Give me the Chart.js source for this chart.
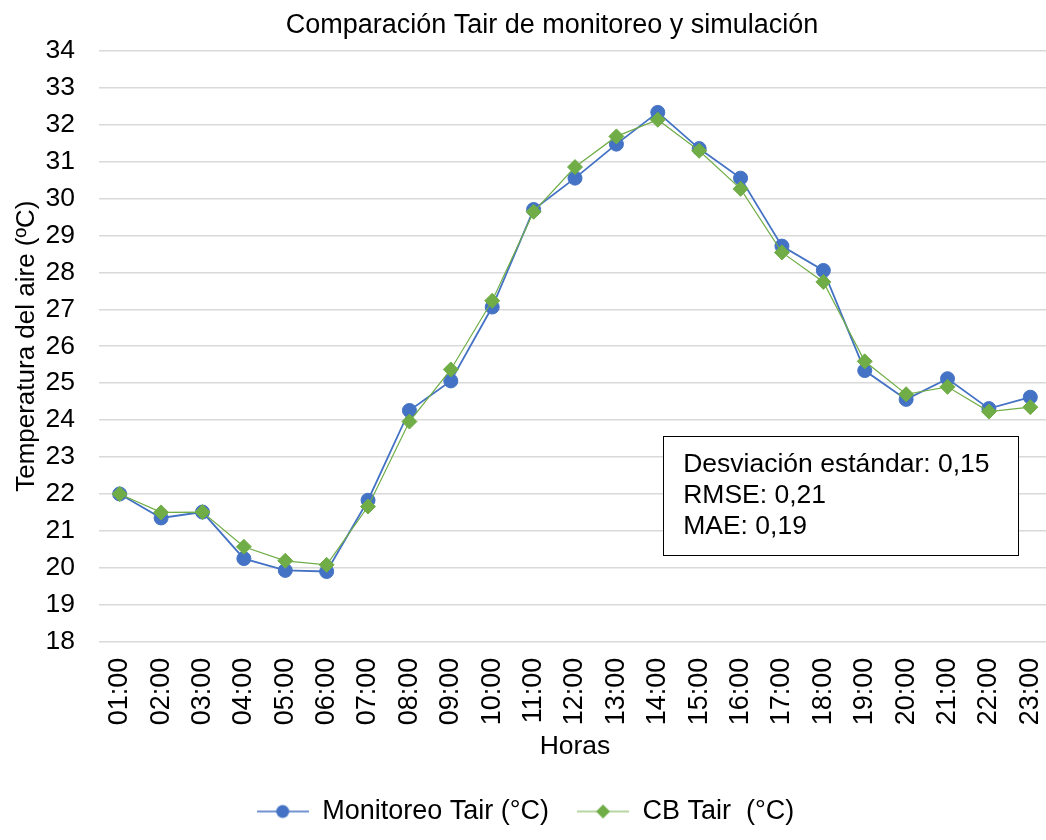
<!DOCTYPE html>
<html>
<head>
<meta charset="utf-8">
<script src="https://cdn.jsdelivr.net/npm/chart.js@4/dist/chart.umd.min.js"></script>
<style>
  html, body { margin: 0; padding: 0; background: #fff; overflow: hidden; }
  #wrap { width: 1051px; height: 840px; position: relative; }
</style>
</head>
<body>
<div id="wrap"><canvas id="c"></canvas></div>
<script>
// ---- data ----
const horas = ['01:00','02:00','03:00','04:00','05:00','06:00','07:00','08:00','09:00','10:00','11:00','12:00',
               '13:00','14:00','15:00','16:00','17:00','18:00','19:00','20:00','21:00','22:00','23:00'];
const monitoreoTair = [22.00, 21.35, 21.51, 20.25, 19.93, 19.90, 21.83, 24.26, 25.06, 27.06, 29.70, 30.55,
                       31.47, 32.33, 31.35, 30.55, 28.71, 28.05, 25.34, 24.56, 25.12, 24.31, 24.62];
const cbTair        = [22.00, 21.50, 21.51, 20.57, 20.19, 20.08, 21.66, 23.96, 25.37, 27.23, 29.64, 30.85,
                       31.68, 32.13, 31.29, 30.26, 28.54, 27.74, 25.59, 24.70, 24.90, 24.23, 24.35];
const seriesNames = ['Monitoreo Tair (°C)', 'CB Tair  (°C)'];
const yTicksMin = 18, yTicksMax = 34, yTickStep = 1;
const chartTitle = 'Comparación Tair de monitoreo y simulación';
const xTitle = 'Horas';
const yTitle = 'Temperatura del aire (ºC)';
const statsLines = ['Desviación estándar: 0,15', 'RMSE: 0,21', 'MAE: 0,19'];

// ---- styles ----
const FONT = "'Liberation Sans', Arial, sans-serif";
const BLUE = '#4472c4';
const GREEN = '#70ad47';

function legendIcon(color, kind) {
  const cv = document.createElement('canvas');
  cv.width = 52; cv.height = 18;
  const g = cv.getContext('2d');
  g.strokeStyle = color; g.lineWidth = kind === 'circle' ? 1.6 : 1.2;
  g.beginPath(); g.moveTo(0, 9); g.lineTo(52, 9); g.stroke();
  g.fillStyle = color;
  g.beginPath();
  if (kind === 'circle') {
    g.arc(26, 9, 6.5, 0, Math.PI * 2);
  } else {
    g.moveTo(26, 2); g.lineTo(33, 9); g.lineTo(26, 16); g.lineTo(19, 9); g.closePath();
  }
  g.fill();
  return cv;
}
const icons = [legendIcon(BLUE, 'circle'), legendIcon(GREEN, 'diamond')];

const overlayPlugin = {
  id: 'overlay',
  afterDraw(chart) {
    const ctx = chart.ctx;
    const xs = chart.scales.x, ys = chart.scales.y;
    ctx.save();
    // title
    ctx.font = '27px ' + FONT;
    ctx.fillStyle = '#000';
    ctx.textAlign = 'center';
    ctx.textBaseline = 'alphabetic';
    ctx.fillText(chartTitle, 552, 33);
    // stats box anchored to scales
    const x0 = xs.getPixelForValue(13.13), x1 = xs.getPixelForValue(21.70);
    const y0 = ys.getPixelForValue(23.56), y1 = ys.getPixelForValue(20.34);
    ctx.fillStyle = '#fff';
    ctx.fillRect(x0, y0, x1 - x0, y1 - y0);
    ctx.strokeStyle = '#000';
    ctx.lineWidth = 1;
    ctx.strokeRect(Math.round(x0) + 0.5, Math.round(y0) + 0.5, Math.round(x1 - x0), Math.round(y1 - y0));
    ctx.fillStyle = '#000';
    ctx.textAlign = 'left';
    ctx.font = '26.5px ' + FONT;
    statsLines.forEach((t, i) => ctx.fillText(t, x0 + 20, y0 + 36 + i * 31));
    ctx.restore();
  }
};

new Chart(document.getElementById('c'), {
  type: 'line',
  data: {
    labels: horas,
    datasets: [
      {
        label: seriesNames[0], data: monitoreoTair, order: 2,
        borderColor: BLUE, backgroundColor: BLUE, borderWidth: 1.8,
        pointStyle: 'circle', pointRadius: 7, pointBorderWidth: 1,
        pointBackgroundColor: BLUE, pointBorderColor: BLUE, tension: 0
      },
      {
        label: seriesNames[1], data: cbTair, order: 1,
        borderColor: GREEN, backgroundColor: GREEN, borderWidth: 1.2,
        pointStyle: 'rectRot', pointRadius: 7.5, pointBorderWidth: 1,
        pointBackgroundColor: GREEN, pointBorderColor: GREEN, tension: 0
      }
    ]
  },
  options: {
    responsive: true,
    maintainAspectRatio: false,
    animation: false,
    devicePixelRatio: 1,
    layout: { autoPadding: false, padding: { top: 50.7, bottom: 5, left: 0, right: 0 } },
    plugins: {
      title: { display: false },
      tooltip: { enabled: false },
      legend: {
        position: 'bottom',
        labels: {
          usePointStyle: true,
          pointStyleWidth: 52,
          padding: 28,
          color: '#000',
          font: { family: FONT, size: 27 },
          sort: (a, b) => a.datasetIndex - b.datasetIndex,
          generateLabels(chart) {
            const items = Chart.defaults.plugins.legend.labels.generateLabels(chart);
            items.forEach(it => { it.pointStyle = icons[it.datasetIndex]; });
            return items;
          }
        }
      }
    },
    scales: {
      x: {
        offset: true,
        border: { display: false },
        grid: { display: false, drawTicks: false },
        ticks: {
          autoSkip: false, maxRotation: 90, minRotation: 90, padding: 16,
          color: '#000', font: { family: FONT, size: 27 }
        },
        title: {
          display: true, text: xTitle, color: '#000',
          font: { family: FONT, size: 26.5 }, padding: { top: 0, bottom: 7.4 }
        },
        afterFit(scale) { scale.height = 128.3; scale.paddingRight = 0; scale.paddingLeft = 0; }
      },
      y: {
        min: yTicksMin, max: yTicksMax,
        border: { display: false },
        grid: { color: '#d9d9d9', lineWidth: 1.5, drawTicks: false },
        ticks: {
          stepSize: yTickStep, padding: 24, color: '#000',
          font: { family: FONT, size: 26.5 }
        },
        title: {
          display: true, text: yTitle, color: '#000',
          font: { family: FONT, size: 26 }, padding: { top: 11, bottom: 0 }
        },
        afterFit(scale) { scale.width = 99; }
      }
    }
  },
  plugins: [overlayPlugin]
});
</script>
</body>
</html>
